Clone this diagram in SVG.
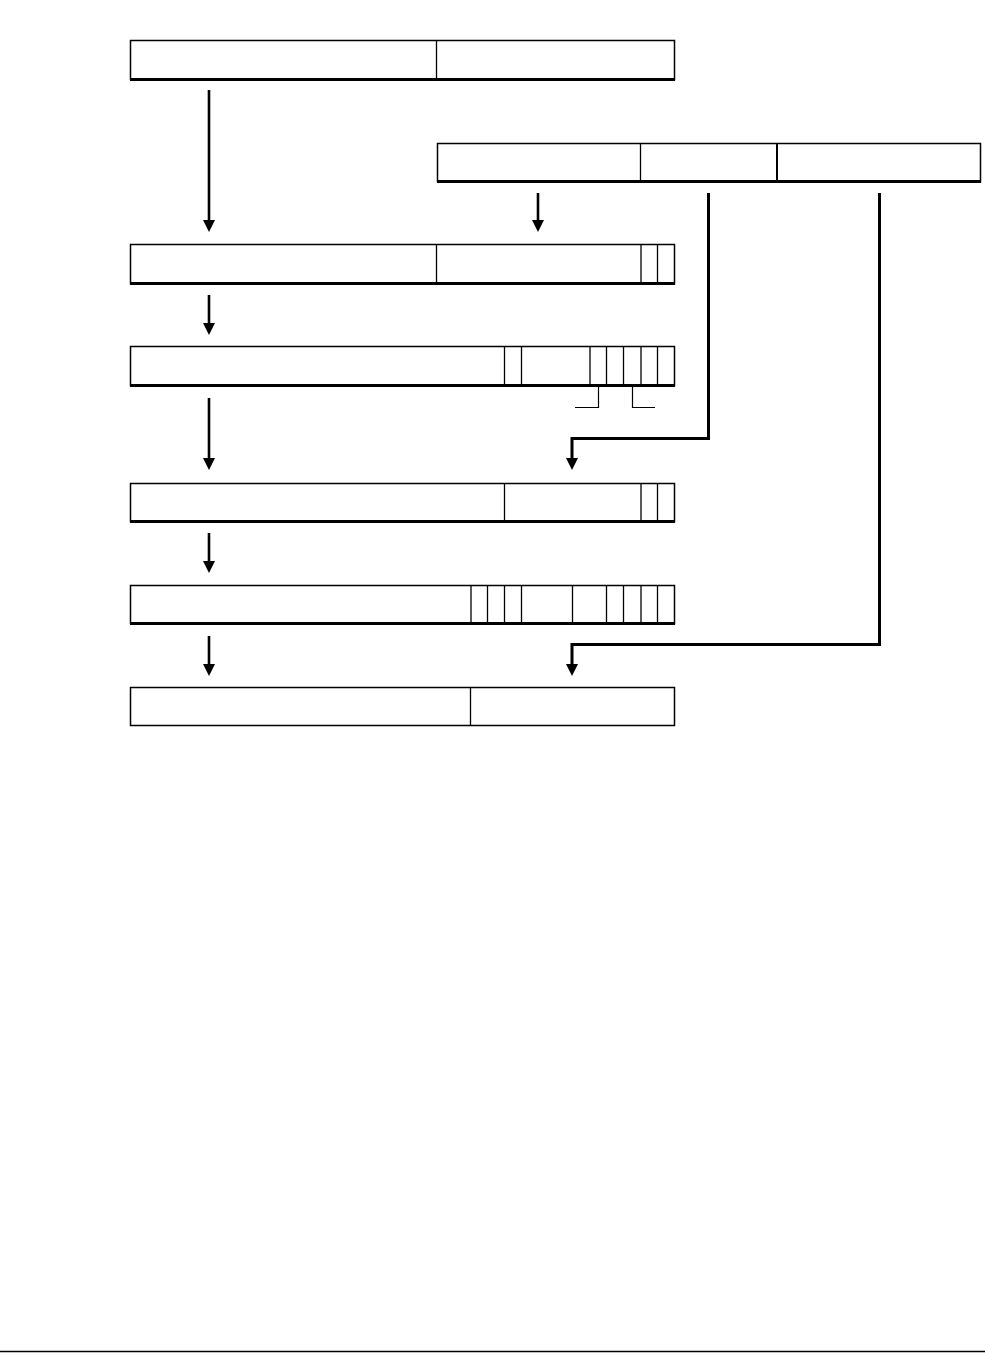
<svg xmlns="http://www.w3.org/2000/svg" width="985" height="1353" viewBox="0 0 985 1353">
<defs>
<marker id="ah" viewBox="0 0 12 12" refX="6" refY="12" markerWidth="12" markerHeight="12" markerUnits="userSpaceOnUse" orient="auto-start-reverse">
<path d="M0,0 L12,0 L6,12 Z" fill="#000"/>
</marker>
<style>
.box{fill:#fff;stroke:#000;stroke-width:1.5}
.base{stroke:#000;stroke-width:3}
.div{stroke:#000;stroke-width:1.3}
.arr{stroke:#000;stroke-width:2.6;fill:none}
.thin{stroke:#000;stroke-width:1.2;fill:none}
</style>
</defs>
<rect width="985" height="1353" fill="#fff"/>
<g id="connectors">
<line class="arr" x1="209" y1="90" x2="209" y2="220"/>
<path d="M203,220 L215,220 L209,232 Z"/>
<line class="arr" x1="538" y1="193" x2="538" y2="220"/>
<path d="M532,220 L544,220 L538,232 Z"/>
<line class="arr" x1="209" y1="295" x2="209" y2="323"/>
<path d="M203,323 L215,323 L209,335 Z"/>
<line class="arr" x1="209" y1="398" x2="209" y2="458"/>
<path d="M203,458 L215,458 L209,470 Z"/>
<polyline class="arr" points="708.5,193 708.5,438.5 572,438.5 572,458" style="stroke-width:3"/>
<path d="M566,458 L578,458 L572,470 Z"/>
<line class="arr" x1="209" y1="533" x2="209" y2="561"/>
<path d="M203,561 L215,561 L209,573 Z"/>
<line class="arr" x1="209" y1="636" x2="209" y2="664"/>
<path d="M203,664 L215,664 L209,676 Z"/>
<polyline class="arr" points="879.5,193 879.5,644.5 572,644.5 572,664" style="stroke-width:3"/>
<path d="M566,664 L578,664 L572,676 Z"/>
<polyline class="thin" points="575,407.5 598.5,407.5 598.5,386"/>
<polyline class="thin" points="632.5,386 632.5,407.5 655,407.5"/>
</g>
<g id="box1">
<rect class="box" x="130.5" y="40.5" width="544" height="39"/>
<line class="base" x1="130" y1="79.5" x2="675" y2="79.5"/>
<line class="div" x1="436.5" y1="40" x2="436.5" y2="79"/>
</g>
<g id="box2">
<rect class="box" x="437.5" y="143.5" width="543" height="38"/>
<line class="base" x1="437" y1="181.5" x2="981" y2="181.5"/>
<line class="div" x1="640.5" y1="143" x2="640.5" y2="181"/>
<line class="div" x1="777" y1="143" x2="777" y2="181" style="stroke-width:2"/>
</g>
<g id="box3">
<rect class="box" x="130.5" y="244.5" width="544" height="39"/>
<line class="base" x1="130" y1="283.5" x2="675" y2="283.5"/>
<line class="div" x1="436.5" y1="244" x2="436.5" y2="283"/>
<line class="div" x1="641" y1="244" x2="641" y2="283"/>
<line class="div" x1="657.5" y1="244" x2="657.5" y2="283"/>
</g>
<g id="box4">
<rect class="box" x="130.5" y="346.5" width="544" height="39"/>
<line class="base" x1="130" y1="385.5" x2="675" y2="385.5"/>
<line class="div" x1="504.5" y1="346" x2="504.5" y2="385"/>
<line class="div" x1="521.5" y1="346" x2="521.5" y2="385"/>
<line class="div" x1="590" y1="346" x2="590" y2="385"/>
<line class="div" x1="606.5" y1="346" x2="606.5" y2="385"/>
<line class="div" x1="623.5" y1="346" x2="623.5" y2="385"/>
<line class="div" x1="641" y1="346" x2="641" y2="385"/>
<line class="div" x1="657.5" y1="346" x2="657.5" y2="385"/>
</g>
<g id="box5">
<rect class="box" x="130.5" y="483.5" width="544" height="38"/>
<line class="base" x1="130" y1="521.5" x2="675" y2="521.5"/>
<line class="div" x1="504.5" y1="483" x2="504.5" y2="521"/>
<line class="div" x1="641" y1="483" x2="641" y2="521"/>
<line class="div" x1="657.5" y1="483" x2="657.5" y2="521"/>
</g>
<g id="box6">
<rect class="box" x="130.5" y="585.5" width="544" height="38"/>
<line class="base" x1="130" y1="623.5" x2="675" y2="623.5"/>
<line class="div" x1="471" y1="585" x2="471" y2="623"/>
<line class="div" x1="487.5" y1="585" x2="487.5" y2="623"/>
<line class="div" x1="504.5" y1="585" x2="504.5" y2="623"/>
<line class="div" x1="521.5" y1="585" x2="521.5" y2="623"/>
<line class="div" x1="572.5" y1="585" x2="572.5" y2="623"/>
<line class="div" x1="606.5" y1="585" x2="606.5" y2="623"/>
<line class="div" x1="623.5" y1="585" x2="623.5" y2="623"/>
<line class="div" x1="641" y1="585" x2="641" y2="623"/>
<line class="div" x1="657.5" y1="585" x2="657.5" y2="623"/>
</g>
<g id="box7">
<rect class="box" x="130.5" y="687.5" width="544" height="38"/>
<line class="div" x1="470.5" y1="687" x2="470.5" y2="725"/>
</g>
<line x1="0" y1="1351.5" x2="985" y2="1351.5" stroke="#000" stroke-width="1.5"/>
</svg>
